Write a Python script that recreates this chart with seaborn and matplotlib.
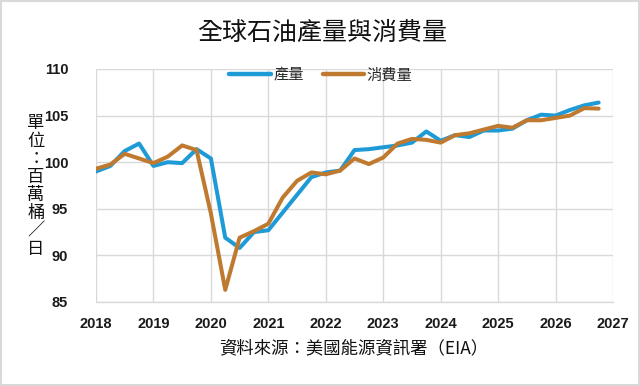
import pandas as pd
import matplotlib
matplotlib.use("Agg")
import matplotlib.pyplot as plt
import seaborn as sns
from matplotlib.patches import Rectangle

# quarterly series, 2018Q1 - 2026Q4 (million barrels per day)
quarters = pd.period_range("2018Q1", "2026Q4", freq="Q")
production = [99.0, 99.6, 101.2, 102.0,
              99.6, 100.0, 99.9, 101.4,
              100.4, 91.9, 90.8, 92.5,
              92.7, 94.6, 96.5, 98.4,
              98.9, 99.1, 101.3, 101.4,
              101.6, 101.8, 102.1, 103.3,
              102.3, 102.9, 102.7, 103.4,
              103.4, 103.6, 104.5, 105.1,
              105.0, 105.6, 106.1, 106.4]
consumption = [99.3, 99.75, 100.9, 100.4,
               99.9, 100.6, 101.8, 101.3,
               94.5, 86.3, 91.9, 92.6,
               93.4, 96.2, 98.0, 98.9,
               98.7, 99.1, 100.4, 99.8,
               100.5, 102.0, 102.5, 102.4,
               102.1, 102.9, 103.1, 103.5,
               103.9, 103.7, 104.5, 104.5,
               104.75, 105.0, 105.8, 105.75]
series_names = ["產量", "消費量"]
year_ticks = list(range(2018, 2028))
y_ticks = [85, 90, 95, 100, 105, 110]

# long format for seaborn
x = [q.year + (q.quarter - 1) / 4 for q in quarters]
df = pd.DataFrame({
    "x": x * 2,
    "value": production + consumption,
    "series": [series_names[0]] * len(x) + [series_names[1]] * len(x),
})

sns.set_theme(style="whitegrid")
plt.rcParams['font.family'] = ['Noto Sans CJK TC', 'DejaVu Sans']

fig = plt.figure(figsize=(6.4, 3.86), dpi=100)
ax = fig.add_axes([96 / 640, 1 - 302 / 386, 517 / 640, 233 / 386])

sns.lineplot(data=df, x="x", y="value", hue="series",
             palette={"產量": "#1E9BD7", "消費量": "#BF7A30"},
             linewidth=2.9, ax=ax)

ax.set_xlim(2018, 2027)
ax.set_ylim(85, 110)
ax.set_xticks(year_ticks)
ax.set_yticks(y_ticks)
ax.set_xlabel("")
ax.set_ylabel("")
ax.grid(True, color="#d9d9d9", linewidth=1)
for s in ["top", "right", "left"]:
    ax.spines[s].set_visible(False)
ax.spines["bottom"].set_color("#d9d9d9")
ax.spines["bottom"].set_linewidth(1)
ax.tick_params(axis="x", length=4, width=1, color="#d9d9d9", pad=7)
ax.tick_params(axis="y", length=0, pad=20)
for lab in ax.get_xticklabels() + ax.get_yticklabels():
    lab.set_fontfamily("Liberation Sans")
    lab.set_fontweight("bold")
    lab.set_fontsize(10.5)
    lab.set_color("#1a1a1a")

leg = ax.legend(loc="center", bbox_to_anchor=(321 / 640, 1 - 75 / 386),
                bbox_transform=fig.transFigure, ncol=2, frameon=False,
                fontsize=11, handlelength=2.7, handletextpad=0.2,
                columnspacing=1.2)
for h in leg.get_lines():
    h.set_linewidth(3.2)

fig.text(0.503, 1 - 33 / 386, "全球石油產量與消費量", ha="center", va="center",
         fontsize=18, color="#111111")
fig.text(36 / 640, 1 - 186 / 386, "\n".join("單位：百萬桶／日"), ha="center",
         va="center", fontsize=12.5, linespacing=1.0, color="#111111")
fig.text(354 / 640, 1 - 348 / 386, "資料來源：美國能源資訊署（EIA）",
         ha="center", va="center", fontsize=12.5, color="#111111")

# light frame round the chart
fig.patches.append(Rectangle((0.002, 0.003), 0.996, 0.994, transform=fig.transFigure,
                             fill=False, edgecolor="#d9d9d9", linewidth=1.5))

fig.savefig("out.png", dpi=100, facecolor="white")
